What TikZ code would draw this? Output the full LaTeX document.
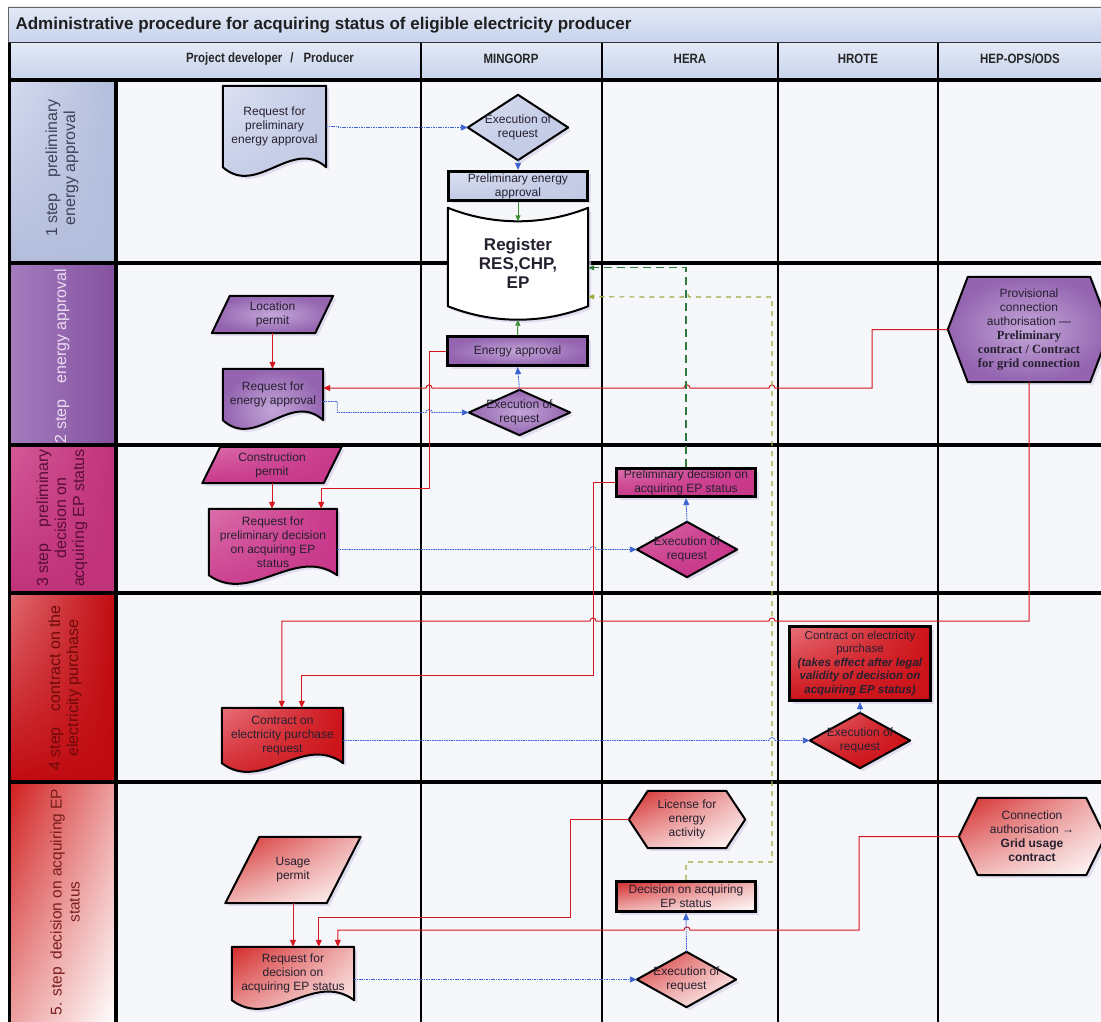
\documentclass[tikz,border=0pt]{standalone}
\usepackage{fontspec}
\setmainfont{Liberation Sans}
\newfontfamily\serifbold{Liberation Serif}
\newfontfamily\narrowf[FakeStretch=0.85]{Liberation Sans}
\usetikzlibrary{calc,arrows.meta,shadows,shadings}
\pgfdeclarelayer{back}
\pgfdeclarelayer{shp}
\pgfsetlayers{back,shp,main}
\definecolor{plotbg}{HTML}{F6F7FB}
\definecolor{hdr}{HTML}{C7D3EC}
\definecolor{hdrl}{HTML}{E3E9F6}
\definecolor{l1}{HTML}{B3BDDC}
\definecolor{l1l}{HTML}{D4DAEE}
\definecolor{l2}{HTML}{84519F}
\definecolor{l2l}{HTML}{A47CBE}
\definecolor{l3}{HTML}{C0327A}
\definecolor{l3l}{HTML}{D45A98}
\definecolor{l4}{HTML}{C00A10}
\definecolor{l4l}{HTML}{E06A70}
\definecolor{l5}{HTML}{D01E1E}
\definecolor{l5m}{HTML}{EDA0A0}
\definecolor{n1}{HTML}{C2CAE5}
\definecolor{n1l}{HTML}{DCE1F2}
\definecolor{n2}{HTML}{9464B0}
\definecolor{n2l}{HTML}{C3A6D8}
\definecolor{n3}{HTML}{C8378A}
\definecolor{n3l}{HTML}{DA6FAA}
\definecolor{n4}{HTML}{CC1218}
\definecolor{n4l}{HTML}{E8707A}
\definecolor{n5}{HTML}{D42A2A}
\definecolor{n5m}{HTML}{F0B4B4}
\definecolor{lt1}{HTML}{3C4458}
\definecolor{lt2}{HTML}{EADCF2}
\definecolor{lt3}{HTML}{5A0E36}
\definecolor{lt4}{HTML}{6E0A0A}
\definecolor{lt5}{HTML}{7A1C1C}
\definecolor{txt}{HTML}{262030}
\definecolor{redln}{HTML}{D51820}
\definecolor{blueln}{HTML}{3B63D2}
\definecolor{greenln}{HTML}{3E8E36}
\definecolor{dkgreen}{HTML}{2F7A3A}
\definecolor{oliveln}{HTML}{A0A840}
\definecolor{shadowc}{HTML}{D8D2EA}
\newcommand\nodefont{\fontsize{12}{14}\selectfont}
\newcommand\docpath[2]{\path[#2] (#1.north west) -- (#1.north east) -- (#1.south east) .. controls ($(#1.south east)!0.33!(#1.south west)+(0,-30)$) and ($(#1.south west)!0.33!(#1.south east)+(0,30)$) .. (#1.south west) -- cycle;}
\newcommand\diapath[2]{\path[#2] (#1.north) -- (#1.east) -- (#1.south) -- (#1.west) -- cycle;}
\newcommand\parpath[3]{\path[#3] ($(#1.north west)+(#2,0)$) -- ($(#1.north east)+(#2,0)$) -- ($(#1.south east)+(-#2,0)$) -- ($(#1.south west)+(-#2,0)$) -- cycle;}
\newcommand\hexpath[3]{\path[#3] (#1.west) -- ($(#1.north west)+(#2,0)$) -- ($(#1.north east)+(-#2,0)$) -- (#1.east) -- ($(#1.south east)+(-#2,0)$) -- ($(#1.south west)+(#2,0)$) -- cycle;}
\newcommand\regpath[2]{\path[#2] (#1.north west) .. controls ($(#1.north west)+(45,18)$) and ($(#1.north east)+(-45,18)$) .. (#1.north east) -- ($(#1.south east)+(0,-12)$) .. controls ($(#1.south east)+(-45,6)$) and ($(#1.south west)+(45,6)$) .. ($(#1.south west)+(0,-12)$) -- cycle;}
\begin{document}
\begin{tikzpicture}[x=1pt,y=-1pt,
  shd/.style={drop shadow={shadow xshift=3pt,shadow yshift=-3pt,fill=shadowc,opacity=0.7}},
  sbox/.style={draw=none,inner sep=0pt,align=center,font=\nodefont,text=txt},
  tbox/.style={draw=black,line width=3.2pt,inner sep=0pt,align=center,font=\nodefont,text=txt,shd},
  outl/.style={draw=black,line width=2pt,line join=round,shd},
  bl/.style={blueln,line width=0.9pt,dash pattern=on 1.6pt off 0.8pt,-{Triangle[length=7pt,width=6pt]}},
  rl/.style={redln,line width=1pt,-{Triangle[length=7pt,width=6pt]}},
  gl/.style={greenln,line width=1pt,-{Triangle[length=6pt,width=5pt]}},
  dg/.style={dkgreen,line width=1.2pt,dash pattern=on 8pt off 5pt,-{Triangle[length=6pt,width=5pt]}},
  dol/.style={oliveln,line width=1.2pt,dash pattern=on 5pt off 5pt,-{Triangle[length=6pt,width=5pt]}},
  lanetxt/.style={rotate=90,align=center,font=\fontsize{16}{18}\selectfont},
  hdrtxt/.style={font=\narrowf\bfseries\fontsize{13.5}{15}\selectfont,text=black!85},
  fill1/.style={upper left=n1l,upper right=n1,lower left=n1,lower right=n1},
  fill2/.style={inner color=n2l,outer color=n2},
  fill3/.style={upper left=n3l,upper right=n3,lower left=n3,lower right=n3},
  fill4/.style={upper left=n4l,upper right=n4,lower left=n4,lower right=n4},
  fill5/.style={upper left=n5,upper right=n5m,lower left=n5m,lower right=white}]
\useasboundingbox (0,0) rectangle (1101,1022);

\begin{pgfonlayer}{back}
\fill[plotbg] (10,80) rectangle (1101,1022);
\shade[top color=hdrl,bottom color=hdr] (8,7) rectangle (1101,42);
\shade[top color=hdrl,bottom color=hdr] (8,43) rectangle (1101,79);
\draw[black!60,line width=0.8pt] (1101,7) -- (8,7) -- (8,42);
\draw[black!80,line width=1.2pt] (8,42.5) -- (1101,42.5);
\shade[upper left=l1l,upper right=l1,lower left=l1,lower right=l1] (10,80) rectangle (116,263);
\shade[upper left=l2l,upper right=l2,lower left=l2l,lower right=l2] (10,263) rectangle (116,445);
\shade[upper left=l3l,upper right=l3,lower left=l3,lower right=l3] (10,445) rectangle (116,593);
\shade[upper left=l4l,upper right=l4,lower left=l4,lower right=l4] (10,593) rectangle (116,782);
\shade[upper left=l5,upper right=l5m,lower left=l5m,lower right=white] (10,782) rectangle (116,1022);
\foreach \cx in {421,602,778,938} \draw[line width=1.6pt] (\cx,43) -- (\cx,1022);
\foreach \ly in {80,263,445,593,782} \draw[line width=3.5pt] (8,\ly) -- (1101,\ly);
\draw[line width=3.5pt] (116,80) -- (116,1022);
\draw[line width=3pt] (9.5,43) -- (9.5,1022);
\end{pgfonlayer}

% title and header
\node[anchor=west,font=\bfseries\fontsize{17}{20}\selectfont,text=black!88] (title) at (12,25) {Administrative procedure for acquiring status of eligible electricity producer};
\node[hdrtxt] (hpd) at (270,59) {Project developer\hspace{8pt}/\hspace{10pt}Producer};
\node[hdrtxt] (hmin) at (511,59) {MINGORP};
\node[hdrtxt] (hhera) at (690,59) {HERA};
\node[hdrtxt] (hhrote) at (858,59) {HROTE};
\node[hdrtxt] (hhep) at (1020,59) {HEP-OPS/ODS};

% lane labels
\node[lanetxt,text=lt1] (lab1) at (62,168) {1 step\hspace{16pt}preliminary\\energy approval};
\node[lanetxt,text=lt2] (lab2) at (62,356) {2 step\hspace{16pt}energy approval};
\node[lanetxt,text=lt3] (lab3) at (62,518) {3 step\hspace{16pt}preliminary\\decision on\\acquiring EP status};
\node[lanetxt,text=lt4] (lab4) at (65,688) {4 step\hspace{16pt}contract on the\\electricity purchase};
\node[lanetxt,text=lt5,font=\fontsize{15.5}{18}\selectfont] (lab5) at (65,902) {5. step\hspace{8pt}decision on acquiring EP\\status};

% lane 1
\node[sbox,minimum width=103pt,minimum height=81pt] (d1) at (274.5,126.5) {Request for\\preliminary\\energy approval};
\node[sbox,minimum width=100pt,minimum height=65pt] (e1) at (518,127.5) {Execution of\\request};
\node[tbox,fill1,minimum width=139pt,minimum height=29pt] (r1) at (518,186) {Preliminary energy\\approval};
\node[sbox,minimum width=140pt,minimum height=110pt,font=\bfseries\fontsize{17}{19}\selectfont] (reg) at (518,263) {Register\\RES,CHP,\\EP};
\coordinate (regtop) at ($(reg.north)+(0,13.5)$);
\coordinate (regbot) at ($(reg.south)+(0,1.5)$);

% lane 2
\node[sbox,minimum width=103pt,minimum height=37pt] (lp) at (272.5,314.5) {Location\\permit};
\node[sbox,minimum width=100pt,minimum height=51pt] (d2) at (273,394.5) {Request for\\energy approval};
\node[tbox,fill2,minimum width=140pt,minimum height=29pt] (ea) at (517.5,351) {Energy approval};
\node[sbox,minimum width=101pt,minimum height=45pt] (e2) at (519.5,412.5) {Execution of\\request};
\node[sbox,minimum width=162pt,minimum height=105pt] (pc) at (1029,329.5) {Provisional\\connection\\authorisation —\\{\serifbold\bfseries\fontsize{12.5}{14}\selectfont Preliminary}\\{\serifbold\bfseries\fontsize{12.5}{14}\selectfont contract / Contract}\\{\serifbold\bfseries\fontsize{12.5}{14}\selectfont for grid connection}};

% lane 3
\node[sbox,minimum width=121pt,minimum height=36pt] (cp) at (272,465) {Construction\\permit};
\node[sbox,minimum width=128pt,minimum height=66pt] (d3) at (273,542) {Request for\\preliminary decision\\on acquiring EP\\status};
\node[tbox,fill3,minimum width=139pt,minimum height=28pt] (pd) at (686,482.5) {Preliminary decision on\\acquiring EP status};
\node[sbox,minimum width=100pt,minimum height=55pt] (e3) at (687,549.5) {Execution of\\request};

% lane 4
\node[sbox,minimum width=121pt,minimum height=55pt] (d4) at (282.5,735.5) {Contract on\\electricity purchase\\request};
\node[tbox,fill4,minimum width=141pt,minimum height=74pt,font=\fontsize{11.5}{13.5}\selectfont] (hc) at (860,663.5) {Contract on electricity\\purchase\\\textbf{\textit{(takes effect after legal}}\\\textbf{\textit{validity of decision on}}\\\textbf{\textit{acquiring EP status)}}};
\node[sbox,minimum width=100pt,minimum height=55pt] (e4) at (860,740.5) {Execution of\\request};

% lane 5
\node[sbox,minimum width=101pt,minimum height=66pt] (up) at (293,870) {Usage\\permit};
\node[sbox,minimum width=122pt,minimum height=53pt] (d5) at (293,973.5) {Request for\\decision on\\acquiring EP status};
\node[sbox,minimum width=116pt,minimum height=57pt] (lic) at (687,819.5) {License for\\energy\\activity};
\node[tbox,fill5,minimum width=139pt,minimum height=30pt] (de) at (686,896.5) {Decision on acquiring\\EP status};
\node[sbox,minimum width=99pt,minimum height=55pt] (e5) at (686.5,979.5) {Execution of\\request};
\node[sbox,minimum width=146pt,minimum height=77pt] (ca) at (1032,836.5) {Connection\\authorisation →\\\textbf{Grid usage}\\\textbf{contract}};

\begin{pgfonlayer}{shp}
\docpath{d1}{outl,fill1}
\diapath{e1}{outl,fill1}
\regpath{reg}{outl,fill=white}
\parpath{lp}{9}{outl,fill2}
\docpath{d2}{outl,fill2}
\diapath{e2}{outl,fill2}
\hexpath{pc}{20}{outl,fill2}
\parpath{cp}{9}{outl,fill3}
\docpath{d3}{outl,fill3}
\diapath{e3}{outl,fill3}
\docpath{d4}{outl,fill4}
\diapath{e4}{outl,fill4}
\parpath{up}{17}{outl,fill5}
\docpath{d5}{outl,fill5}
\hexpath{lic}{19}{outl,fill5}
\diapath{e5}{outl,fill5}
\hexpath{ca}{19}{outl,fill5}
\end{pgfonlayer}

% connectors lane 1
\draw[bl] (d1.east) -- ++(12,0) |- (e1.west);
\draw[bl] (e1.south) -- (r1.north);
\draw[gl] (r1.south) -- (regtop);
% lane 2
\draw[rl] (lp.south) -- (lp.south |- d2.north);
\draw[bl] (e2.north) -- (ea.south);
\draw[gl] (ea.north) -- (regbot);
\draw[bl] ($(d2.east)+(0,7)$) -- ++(14,0) |- (426,412.5) .. controls (426,408.5) and (432,408.5) .. (432,412.5) -- (e2.west);
\draw[rl] (pc.west) -- (872,329.5) -- (872,388) -- (775,388) .. controls (775,384) and (769,384) .. (769,388) -- (690,388) .. controls (690,384) and (684,384) .. (684,388) -- (432,388) .. controls (432,384) and (426,384) .. (426,388) -- ($(d2.east)+(0,-6.5)$);
\draw[rl] (ea.west) -| (429,488) -| ($(d3.north east)+(-16,0)$);
% lane 3
\draw[rl] (cp.south) -- (cp.south |- d3.north);
\draw[bl] ($(d3.east)+(0,7.5)$) -- (590,549.5) .. controls (590,545.5) and (596,545.5) .. (596,549.5) -- (e3.west);
\draw[bl] (e3.north) -- (pd.south);
\draw[rl] (pd.west) -| (593,675) -| ($(d4.north west)+(80,0)$);
% lane 4
\draw[rl] (pc.south) -- (1029,621) -- (775,621) .. controls (775,617) and (769,617) .. (769,621) -- (596,621) .. controls (596,617) and (590,617) .. (590,621) -| ($(d4.north west)+(60,0)$);
\draw[bl] ($(d4.east)+(0,5)$) -- (769,740.5) .. controls (769,736.5) and (775,736.5) .. (775,740.5) -- (e4.west);
\draw[bl] (e4.north) -- (hc.south);
% register feedback
\draw[dg] (pd.north) |- ($(reg.north east)+(0,60)$);
\draw[dol] (de.north) -- ++(0,-18) -- (772,862) -- (772,297) -- (689,297) .. controls (689,293) and (683,293) .. (683,297) -- ($(reg.north east)+(0,89)$);
% lane 5
\draw[rl] (up.south) -- (up.south |- d5.north);
\draw[rl] (lic.west) -- (570,819.5) -- (570,917) -| ($(d5.north west)+(87,0)$);
\draw[rl] (ca.west) -- (859,836.5) -- (859,930) -- (690,930) .. controls (690,926) and (684,926) .. (684,930) -| ($(d5.north west)+(106,0)$);
\draw[bl] ($(d5.east)+(0,6)$) -- (e5.west);
\draw[bl] (e5.north) -- (de.south);
\end{tikzpicture}
\end{document}
